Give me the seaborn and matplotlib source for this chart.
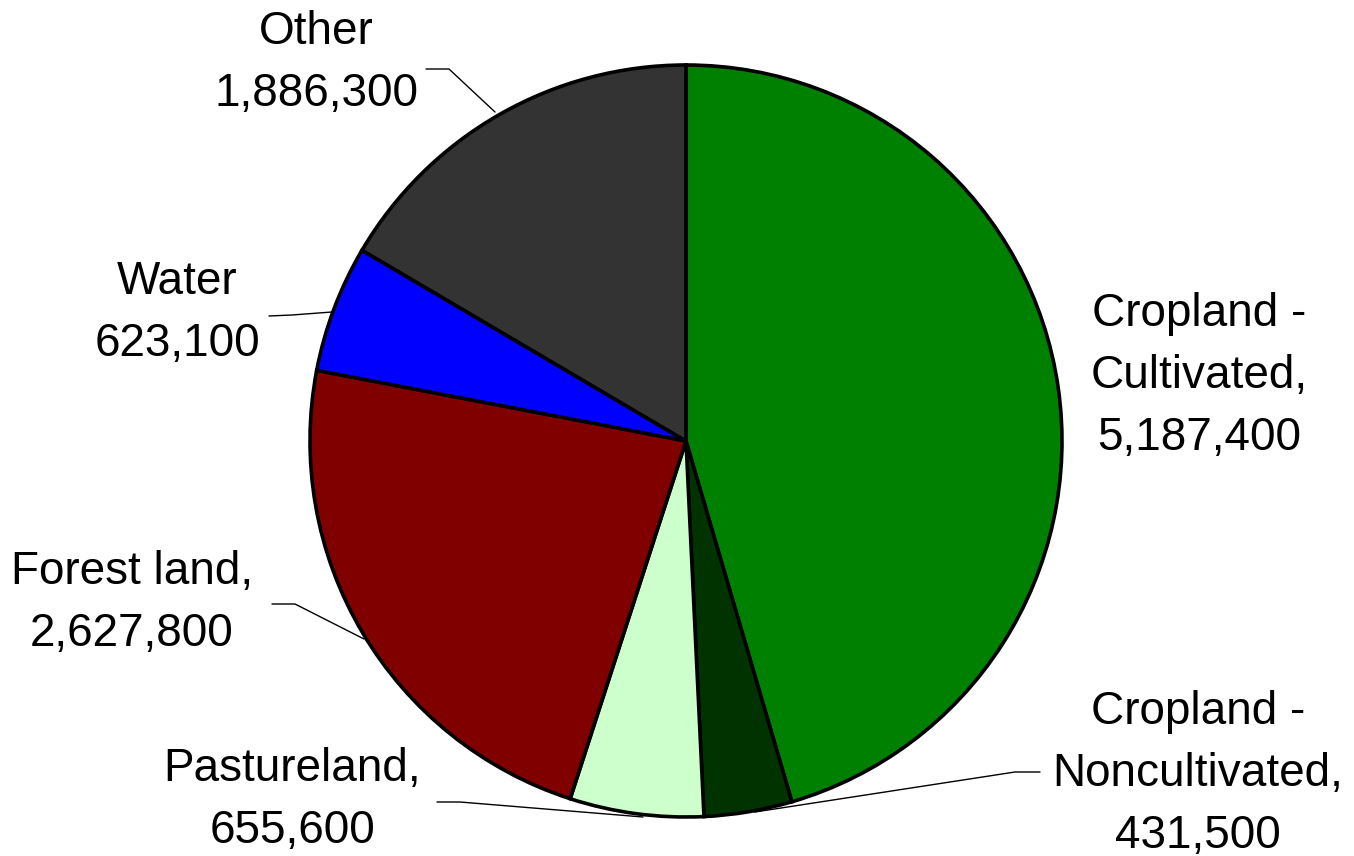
import matplotlib
matplotlib.use('Agg')
import matplotlib.pyplot as plt
import seaborn as sns

sns.set_theme(style='white')
plt.rcParams['font.family'] = ['Liberation Sans', 'DejaVu Sans']

# Land use data
categories = ['Cropland -\nCultivated', 'Cropland -\nNoncultivated', 'Pastureland,',
              'Forest land,', 'Water', 'Other']
values = [5187400, 431500, 655600, 2627800, 623100, 1886300]
colors = ['#008000', '#003300', '#CCFFCC', '#800000', '#0000FF', '#333333']
label_text = ['Cropland -\nCultivated,\n5,187,400',
              'Cropland -\nNoncultivated,\n431,500',
              'Pastureland,\n655,600',
              'Forest land,\n2,627,800',
              'Water\n623,100',
              'Other\n1,886,300']

W, H = 1354, 856
fig = plt.figure(figsize=(W / 100, H / 100), dpi=100)
ax = fig.add_axes([0, 0, 1, 1])

ax.pie(values, colors=colors, startangle=90, counterclock=False,
       center=(686, H - 441), radius=376, frame=True,
       wedgeprops={'edgecolor': 'black', 'linewidth': 2.6})

# label positions (pixel coords, y from top)
label_pos = [(1199, 376), (1198, 774), (292, 800), (132, 603), (177, 313), (316, 63)]
for txt, (x, y) in zip(label_text, label_pos):
    ax.text(x, H - y, txt, ha='center', va='center', fontsize=33,
            linespacing=1.53, color='black')

# leader lines
leaders = [
    [(426, 69), (449, 69), (495, 112)],
    [(269, 316), (292, 315), (332, 312)],
    [(272, 604), (295, 604), (364, 639)],
    [(437, 802), (460, 802), (643, 817)],
    [(1040, 772), (1015, 772), (755, 812)],
]
for pts in leaders:
    xs = [p[0] for p in pts]
    ys = [H - p[1] for p in pts]
    ax.plot(xs, ys, color='black', lw=1)

ax.set_xlim(0, W)
ax.set_ylim(0, H)
ax.set_aspect('equal')
ax.axis('off')

fig.savefig('out.png', dpi=100)
